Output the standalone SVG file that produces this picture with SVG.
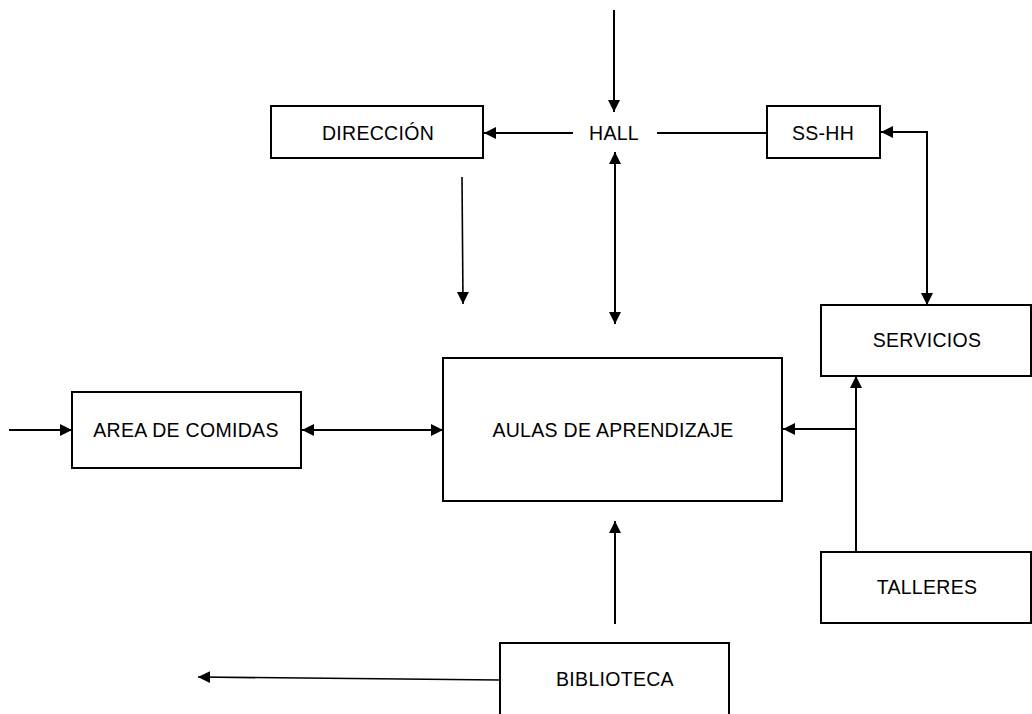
<svg xmlns="http://www.w3.org/2000/svg" width="1032" height="714" viewBox="0 0 1032 714">
<style>
.box{fill:#fff;stroke:#000;stroke-width:2}
.lbl{font-family:"Liberation Sans",Arial,sans-serif;font-size:19.5px;letter-spacing:0.3px;fill:#000;text-anchor:middle;dominant-baseline:central}
.c{fill:none;stroke:#000;stroke-width:2}
.t{fill:none;stroke:#000;stroke-width:1.6}
</style>
<defs>
<marker id="ah" markerUnits="userSpaceOnUse" markerWidth="13" markerHeight="13" viewBox="0 0 13 13" refX="12" refY="6.5" orient="auto-start-reverse">
<path d="M0,0.5 L12,6.5 L0,12.5 z" fill="#000"/>
</marker>
</defs>
<rect width="1032" height="714" fill="#fff"/>
<g id="connectors">
<line class="c" x1="614" y1="10" x2="614" y2="112" marker-end="url(#ah)"/>
<line class="c" x1="573" y1="133" x2="484" y2="133" marker-end="url(#ah)"/>
<line class="c" x1="657" y1="133" x2="767" y2="133"/>
<path class="c" d="M881,132 H927 V305" marker-start="url(#ah)" marker-end="url(#ah)"/>
<line class="c" x1="615" y1="152" x2="615" y2="324" marker-start="url(#ah)" marker-end="url(#ah)"/>
<line class="t" x1="462" y1="177" x2="463" y2="304" marker-end="url(#ah)"/>
<line class="c" x1="9" y1="430" x2="72" y2="430" marker-end="url(#ah)"/>
<line class="c" x1="302" y1="430" x2="443" y2="430" marker-start="url(#ah)" marker-end="url(#ah)"/>
<line class="c" x1="856" y1="552" x2="856" y2="376" marker-end="url(#ah)"/>
<line class="c" x1="856" y1="429" x2="783" y2="429" marker-end="url(#ah)"/>
<line class="c" x1="615" y1="624" x2="615" y2="521" marker-end="url(#ah)"/>
<line class="t" x1="500" y1="680" x2="198" y2="677" marker-end="url(#ah)"/>
</g>
<g id="direccion">
<rect class="box" x="271" y="106" width="212" height="52"/>
<text class="lbl" x="378" y="133">DIRECCIÓN</text>
</g>
<g id="hall">
<text class="lbl" x="614" y="133">HALL</text>
</g>
<g id="sshh">
<rect class="box" x="767" y="106" width="113" height="52"/>
<text class="lbl" x="823" y="133">SS-HH</text>
</g>
<g id="servicios">
<rect class="box" x="821" y="305" width="210" height="71"/>
<text class="lbl" x="927" y="340">SERVICIOS</text>
</g>
<g id="area-comidas">
<rect class="box" x="72" y="392" width="229" height="76"/>
<text class="lbl" x="186" y="430">AREA DE COMIDAS</text>
</g>
<g id="aulas">
<rect class="box" x="443" y="358" width="339" height="143"/>
<text class="lbl" x="613" y="430">AULAS DE APRENDIZAJE</text>
</g>
<g id="talleres">
<rect class="box" x="821" y="552" width="210" height="71"/>
<text class="lbl" x="927" y="587">TALLERES</text>
</g>
<g id="biblioteca">
<rect class="box" x="500" y="643" width="229" height="80"/>
<text class="lbl" x="615" y="679">BIBLIOTECA</text>
</g>
</svg>
